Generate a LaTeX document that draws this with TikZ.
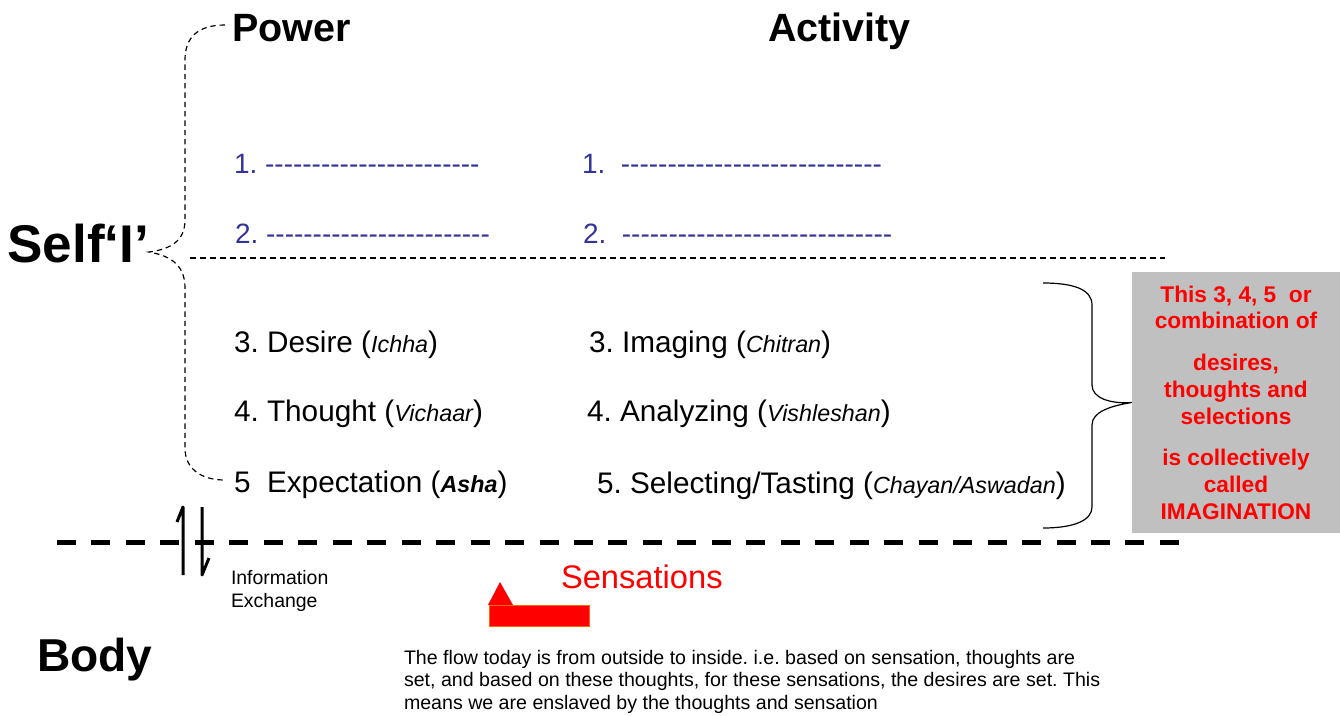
\documentclass[tikz,border=0pt]{standalone}
\usepackage{fontspec}
\setmainfont{Liberation Sans}
\usetikzlibrary{calc}
\frenchspacing

\definecolor{itemblue}{RGB}{51,51,153}
\definecolor{boxgray}{RGB}{192,192,192}
\definecolor{edgeorange}{RGB}{255,102,0}

% a run of plain hyphens (kerns keep them from turning into dashes)
\newcommand\dashrun[1]{\foreach \k in {1,...,#1}{-\kern0pt}}
% Sanskrit terms in smaller italics
\newcommand\term[1]{{\fontsize{17.5}{20}\selectfont\itshape #1}}

\tikzset{
  lbl/.style={inner sep=0pt, outer sep=0pt, anchor=base west},
  head/.style={lbl, font=\fontsize{29.6}{34}\selectfont\bfseries},
  blank/.style={lbl, font=\fontsize{21}{25}\selectfont, text=itemblue},
  item/.style={lbl, font=\fontsize{22.3}{26}\selectfont},
  note/.style={inner sep=0pt, anchor=base, font=\fontsize{17}{20}\selectfont\bfseries, text=red},
  small/.style={lbl, font=\fontsize{14.6}{17}\selectfont},
  selfbrace/.style={line width=0.9pt, dash pattern=on 4pt off 3pt},
  groupbrace/.style={line width=0.9pt},
  divider/.style={line width=1.1pt, dash pattern=on 4.5pt off 3pt},
  boundary/.style={line width=3.75pt, dash pattern=on 14.25pt off 11.6pt},
  harpoon/.style={line width=2.25pt, line join=round},
}

\begin{document}
\begin{tikzpicture}[x=0.75pt,y=-0.75pt]
\useasboundingbox (0,0) rectangle (1340,715);
\fill[white] (0,0) rectangle (1340,715);

% headings
\node[head] (power) at (232,41) {Power};
\node[head] (activity) at (768,41) {Activity};
\node[lbl, font=\fontsize{39.8}{46}\selectfont\bfseries] (self) at (7.5,262) {Self‘I’};
\node[lbl, font=\fontsize{34.6}{40}\selectfont\bfseries] (body) at (37,671) {Body};

% blank entries 1 and 2
\node[blank] (p1) at (234,173) {1. \dashrun{23}};
\node[blank] (p2) at (235,243) {2. \dashrun{24}};
\node[blank] (a1) at (582,173) {1.~ \dashrun{28}};
\node[blank] (a2) at (583,243) {2.~ \dashrun{29}};

% entries 3 to 5
\node[item] (d3) at (234,352) {3. Desire (\term{Ichha})};
\node[item] (d4) at (234,421) {4. Thought (\term{Vichaar})};
\node[item] (d5) at (234,492) {5~ Expectation (\term{\bfseries Asha})};
\node[item] (c3) at (589,352) {3. Imaging (\term{Chitran})};
\node[item] (c4) at (587,421) {4. Analyzing (\term{Vishleshan})};
\node[item] (c5) at (597,493) {5. Selecting/Tasting (\term{Chayan/Aswadan})};

% brace from the self to both rows of powers
\coordinate (top) at (225,25);
\coordinate (tip) at (149,252);
\coordinate (bot) at (225,480);
\draw[selfbrace] (top) .. controls (197,25) and (185,38) .. (185,60) -- (185,220)
  .. controls (185,240) and (172,249) .. (tip)
  .. controls (172,256) and (185,266) .. (185,288) -- (185,448)
  .. controls (185,468) and (200,480) .. (bot);

% dividers
\coordinate (mL) at (190,258);
\coordinate (mR) at (1165,258);
\draw[divider] (mL) -- (mR);
\coordinate (bL) at (57,542);
\coordinate (bR) at (1180,542);
\draw[boundary] (bL) -- (bR);

% imagination box and its brace
\node[fill=boxgray, inner sep=0pt, minimum width=156pt, minimum height=195.75pt] (imag) at (1236,402.5) {};
\node[note] (n1) at (1236,302) {This 3, 4, 5~ or};
\node[note] (n2) at (1236,328) {combination of};
\node[note] (n3) at (1236,370) {desires,};
\node[note] (n4) at (1236,397) {thoughts and};
\node[note] (n5) at (1236,424) {selections};
\node[note] (n6) at (1236,465) {is collectively};
\node[note] (n7) at (1236,492) {called};
\node[note] (n8) at (1236,519) {IMAGINATION};
\draw[groupbrace] (1043,283) .. controls (1075,283) and (1092,290) .. (1092,305) -- (1092,385)
  .. controls (1092,398) and (1110,404) .. (imag.west)
  .. controls (1110,406) and (1092,412) .. (1092,425) -- (1092,507)
  .. controls (1092,520) and (1075,528) .. (1043,528);

% information exchange across the boundary
\draw[harpoon] (177,522) -- (183,507) -- (183,575);
\draw[harpoon] (202,507) -- (202,575) -- (209,558);
\node[small] (info1) at (231,584) {Information};
\node[small] (info2) at (231,607) {Exchange};

% incoming sensations
\fill[red] (500,582) -- (513,605) -- (488,605) -- cycle;
\draw[edgeorange, fill=red, line width=0.75pt] (489,605) rectangle (589,626);
\node[lbl, font=\fontsize{24.5}{29}\selectfont, text=red] (sens) at (561,588) {Sensations};

% closing remark
\node[small, font=\fontsize{14.7}{17}\selectfont] (r1) at (404,664) {The flow today is from outside to inside. i.e. based on sensation, thoughts are};
\node[small, font=\fontsize{14.7}{17}\selectfont] (r2) at (404,686.5) {set, and based on these thoughts, for these sensations, the desires are set. This};
\node[small, font=\fontsize{14.7}{17}\selectfont] (r3) at (404,709) {means we are enslaved by the thoughts and sensation};
\end{tikzpicture}
\end{document}
